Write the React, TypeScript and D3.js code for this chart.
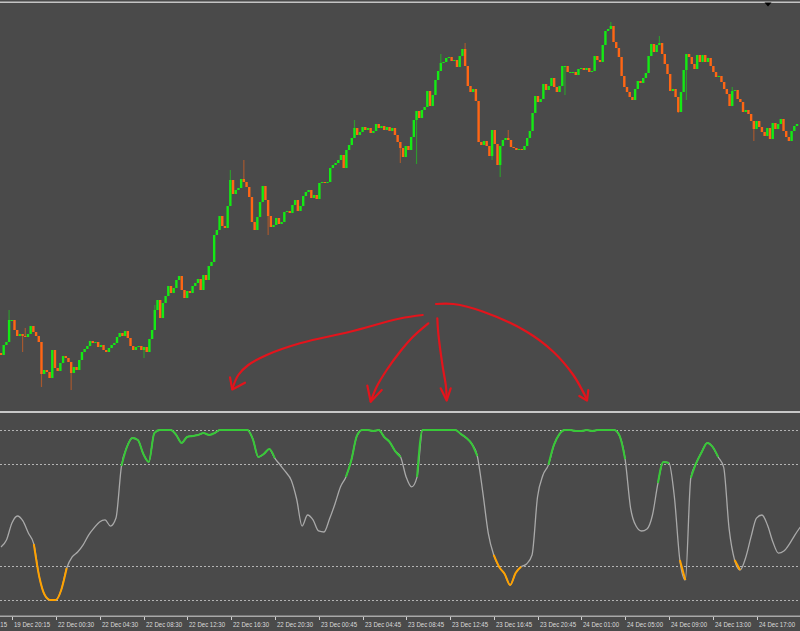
import React from "react";
import * as d3 from "d3";

const W = 800;
const H = 631;

// Close prices (price points) for each bar, left to right
const closes = [
  45, 55, 58, 80, 80, 70, 64, 66, 64, 63,
  66, 74, 68, 64, 58, 26, 30, 28, 22, 50,
  32, 29, 37, 44, 42, 38, 27, 33, 30, 40,
  48, 51, 54, 59, 57, 58, 53, 55, 50, 48,
  52, 55, 57, 63, 67, 64, 69, 62, 54, 50,
  53, 54, 50, 53, 48, 61, 70, 90, 100, 82,
  97, 104, 114, 107, 112, 120, 124, 110, 102, 109,
  107, 114, 117, 121,
  110, 125, 120, 134, 138, 165, 170, 184, 174, 172,
  194, 220, 206, 210, 212, 221, 218, 213, 203, 178,
  170, 183, 198, 214, 200, 184, 173, 175, 182, 176,
  178, 188, 189, 187, 195, 200, 189, 194, 204, 208,
  210, 202, 205, 201, 217, 218, 217, 218, 232, 235,
  237, 240, 245, 232, 250,
  255, 262, 272, 265, 268, 273, 270, 272, 267, 269,
  276, 272, 274, 270, 273, 269, 272, 265, 258,
  252, 243, 254, 250, 263, 280, 289, 282, 290, 293,
  309, 294, 305, 320, 329, 337, 338, 342, 343, 339,
  340, 333, 344, 351, 334, 314, 308, 311, 299, 258,
  255, 259, 254, 244, 270, 256, 235, 254, 260, 262,
  260, 253, 252, 250, 251, 250, 254, 262, 269, 287,
  304, 298, 301, 316, 310, 314, 322, 313, 308, 314,
  334, 334, 328, 328, 328, 325, 331, 332, 330, 332,
  328, 329, 344, 340, 338, 355, 369, 371, 374, 358,
  352, 343, 324, 313, 308, 303, 300, 311, 319, 317,
  322, 327, 344, 356, 348, 355, 357, 346, 336, 326,
  309, 311, 303, 288, 308, 330, 346, 343, 336, 331,
  345, 338, 345, 338, 342, 334, 328, 323, 324, 318,
  311, 306, 294, 309, 310, 301, 298, 288, 290, 286,
  279, 271, 279, 273, 268, 264, 272, 261, 277, 271,
  276, 281, 269, 263, 259, 269, 274, 276,
];
const firstOpen = 47;

// Notable wicks: [bar index, price]
const wickHighs: [number, number][] = [
  [3, 90], [9, 72], [57, 95], [85, 230], [90, 240], [131, 280], [163, 346],
  [172, 357], [188, 270], [217, 324], [226, 378], [244, 364], [271, 313],
];
const wickLows: [number, number][] = [
  [8, 48], [15, 13], [26, 10], [53, 42], [99, 165], [148, 237], [154, 236],
  [182, 240], [185, 223], [209, 305], [251, 287], [254, 300], [279, 259],
];

// Oscillator values (0..100), sampled every two bars
const oscillator = [
  31.2, 35.3, 45.3, 49.4, 46.5, 39.4, 32.9, 13.5, 2.9, 0,
  0, 5.9, 18.8, 25.3, 28.2, 32.4, 38.2, 42.4, 45.9, 47.1,
  43.5, 48.2, 78.8, 90, 95.3, 94.1, 85.9, 81.2, 98.2, 100,
  100, 100, 97.1, 92.4, 95.9, 96.5, 97.1, 98.2, 97.1, 98.2,
  100, 100, 100, 100, 100, 100, 94.7, 84.1, 85.9, 88.8,
  83.5, 79.4, 75.3, 70.6, 59.4, 43.5, 50, 47.1, 40.6, 40,
  47.6, 56.5, 66.5, 72.4, 82.4, 96.5, 100, 100, 99.4, 100,
  95.9, 92.9, 87.6, 84.1, 72.4, 66.5, 72.4, 100, 100, 100,
  100, 100, 100, 100, 97.6, 95.3, 91.8, 84.7, 63.5, 39.4,
  26.5, 19.4, 15.3, 8.8, 15.9, 19.5, 21.2, 26.5, 60.6, 73.5,
  79.5, 91.2, 97.6, 100, 100, 99.4, 99.4, 100, 99.4, 100,
  100, 100, 100, 96.5, 82.9, 54.1, 43.5, 40.6, 41.8, 50,
  68.8, 81.2, 80.6, 60.6, 23.5, 11.8, 71.8, 80.6, 87.1, 92.4,
  90, 84.1, 78.2, 41.8, 23.5, 17.6, 24.7, 37.1, 48.2, 50,
  44.1, 34.1, 27.6, 28.8, 32.9, 38.2, 42.9,
];
const levels = [100, 80, 20, 0];
const upperLevel = 80;
const lowerLevel = 20;

const tickLabels = [
  "19 Dec 16:15", "19 Dec 20:15", "22 Dec 00:30", "22 Dec 04:30", "22 Dec 08:30",
  "22 Dec 12:30", "22 Dec 16:30", "22 Dec 20:30", "23 Dec 00:45", "23 Dec 04:45",
  "23 Dec 08:45", "23 Dec 12:45", "23 Dec 16:45", "23 Dec 20:45", "24 Dec 01:00",
  "24 Dec 05:00", "24 Dec 09:00", "24 Dec 13:00", "24 Dec 17:00", "24 Dec 21:00",
];

// Hand-drawn annotation arrows
const arrows: { shaft: [number, number][]; head: [number, number][] }[] = [
  {
    shaft: [[422.7, 315], [400, 318.5], [350, 331.7], [300, 343.3], [266.7, 355], [248.3, 365], [238.3, 375], [232.3, 389]],
    head: [[230, 377.3], [232.3, 389.5], [245, 382.7]],
  },
  {
    shaft: [[428.3, 323.3], [413, 336.7], [400, 351.7], [386.7, 370], [376.7, 386.7], [370.7, 401.5]],
    head: [[367.3, 385.5], [370.7, 401.7], [381.7, 390]],
  },
  {
    shaft: [[437.3, 318.3], [438.3, 333.3], [442.7, 366.7], [446, 386.7], [446.7, 400]],
    head: [[440.7, 388.3], [446.7, 400.5], [450.7, 388.3]],
  },
  {
    shaft: [[436, 304], [453.3, 304], [483.3, 311.7], [526.7, 331.7], [553.3, 351.7], [573.3, 375], [586.7, 399]],
    head: [[579.3, 396], [587, 400.5], [588.3, 390]],
  },
];

const BG = "#4a4a4a";
const UP = "#14ea14";
const DOWN = "#ff6614";
const OSC_GRAY = "#a9a9a9";
const OSC_UP = "#38c838";
const OSC_DOWN = "#ffa200";

export default function App() {
  const xBar = d3.scaleLinear().domain([0, closes.length - 1]).range([1, 797]);
  const yPrice = d3.scaleLinear().domain([0, 400]).range([400, 0]);
  const xOsc = d3.scaleLinear().domain([0, oscillator.length - 1]).range([1, 800.3]);
  const yOsc = d3.scaleLinear().domain([0, 100]).range([600, 430]);
  const xAxis = d3.scaleLinear().domain([0, tickLabels.length - 1]).range([-31.5, 800.3]);

  const hiMap = new Map(wickHighs);
  const loMap = new Map(wickLows);

  const bars = closes.map((c, i) => {
    const o = i === 0 ? firstOpen : closes[i - 1];
    const top = Math.max(o, c);
    const bot = Math.min(o, c);
    const hi = hiMap.has(i) ? Math.max(top, hiMap.get(i)!) : top;
    const lo = loMap.has(i) ? Math.min(bot, loMap.get(i)!) : bot;
    return { i, o, c, top, bot, hi, lo, up: c >= o };
  });

  const oscLine = d3
    .line<number>()
    .x((_, k) => xOsc(k))
    .y((v) => yOsc(v))
    .curve(d3.curveMonotoneX);

  // colored runs: segment (j-1, j) takes the zone of point j
  const zone = (v: number) => (v >= upperLevel ? "up" : v <= lowerLevel ? "dn" : null);
  const runs: { z: string; from: number; to: number }[] = [];
  for (let j = 1; j < oscillator.length; j++) {
    const z = zone(oscillator[j]);
    if (!z) continue;
    const last = runs[runs.length - 1];
    if (last && last.z === z && last.to === j - 1) last.to = j;
    else runs.push({ z, from: j - 1, to: j });
  }
  const runLine = (from: number, to: number) =>
    d3
      .line<number>()
      .x((_, k) => xOsc(from + k))
      .y((v) => yOsc(v))
      .curve(d3.curveMonotoneX)(oscillator.slice(from, to + 1)) || "";

  const arrowLine = d3.line<[number, number]>().curve(d3.curveCatmullRom.alpha(0.5));
  const headLine = d3.line<[number, number]>();

  return (
    <div style={{ position: "fixed", left: 0, top: 0, width: W, height: H, background: BG }}>
      <svg width={W} height={H} style={{ display: "block" }}>
        <defs>
          <clipPath id="pricePane">
            <rect x={0} y={3} width={W} height={407} />
          </clipPath>
          <clipPath id="oscPane">
            <rect x={0} y={414} width={W} height={201} />
          </clipPath>
        </defs>
        <rect x={0} y={0} width={W} height={H} fill={BG} />
        <rect x={0} y={1.5} width={W} height={1.5} fill="#c4c4c4" />
        <path d="M764.5,2.5 L771.5,2.5 L768,6.5 Z" fill="#000" />

        {/* Candles */}
        <g clipPath="url(#pricePane)">
          {bars.map((b) => {
            const cx = xBar(b.i);
            const col = b.up ? UP : DOWN;
            const yTop = yPrice(b.top);
            const yBot = yPrice(b.bot);
            return (
              <g key={b.i}>
                {(b.hi > b.top || b.lo < b.bot) && (
                  <line
                    x1={cx}
                    x2={cx}
                    y1={yPrice(b.hi)}
                    y2={yPrice(b.lo)}
                    stroke={col}
                    strokeOpacity={0.5}
                    strokeWidth={1.2}
                  />
                )}
                <rect
                  x={cx - 1.2}
                  y={yTop}
                  width={2.4}
                  height={Math.max(1, yBot - yTop)}
                  fill={col}
                />
              </g>
            );
          })}
        </g>

        {/* Annotation arrows */}
        <g fill="none" stroke="#e3141c" strokeWidth={2.2} strokeLinecap="round" strokeLinejoin="round">
          {arrows.map((a, i) => (
            <g key={i}>
              <path d={arrowLine(a.shaft) || ""} />
              <path d={headLine(a.head) || ""} />
            </g>
          ))}
        </g>

        {/* Pane separator */}
        <rect x={0} y={411} width={W} height={2} fill="#c8c8c8" />

        {/* Oscillator levels */}
        {levels.map((lv) => (
          <line
            key={lv}
            x1={0}
            x2={W}
            y1={Math.round(yOsc(lv)) + 0.5}
            y2={Math.round(yOsc(lv)) + 0.5}
            stroke="#b4b4b4"
            strokeWidth={1}
            strokeDasharray="2,2"
          />
        ))}

        {/* Oscillator line */}
        <g clipPath="url(#oscPane)" fill="none">
          <path d={oscLine(oscillator) || ""} stroke={OSC_GRAY} strokeWidth={1.3} />
          {runs.map((r, i) => (
            <path
              key={i}
              d={runLine(r.from, r.to)}
              stroke={r.z === "up" ? OSC_UP : OSC_DOWN}
              strokeWidth={2}
              strokeLinejoin="round"
            />
          ))}
        </g>

        {/* Time axis */}
        <rect x={0} y={615.5} width={W} height={1.5} fill="#a8a8a8" />
        {tickLabels.map((t, k) => {
          const x = Math.round(xAxis(k)) + 0.5;
          return (
            <g key={t}>
              <line x1={x} x2={x} y1={617} y2={620} stroke="#d0d0d0" strokeWidth={1} />
              <text
                x={x + 1.5}
                y={627}
                fill="#dadada"
                fontSize={7.5}
                fontFamily="'Liberation Sans', Arial, sans-serif"
                textLength={36}
                lengthAdjust="spacingAndGlyphs"
              >
                {t}
              </text>
            </g>
          );
        })}
      </svg>
    </div>
  );
}
